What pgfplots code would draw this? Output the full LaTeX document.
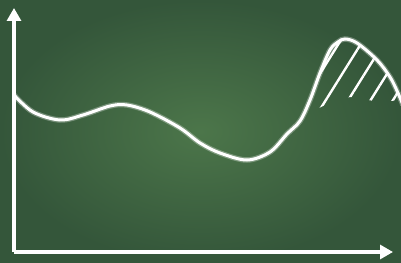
\documentclass[border=0pt]{standalone}
\usepackage{pgfplots}
\pgfplotsset{compat=1.18}
\usetikzlibrary{arrows.meta,patterns.meta}
\definecolor{boardin}{RGB}{76,118,74}
\definecolor{boardout}{RGB}{52,86,58}
\begin{document}
\begin{tikzpicture}
\clip (-14bp,-11bp) rectangle (387bp,252bp);
\shade[inner color=boardin, outer color=boardout] (-14bp,-11bp) rectangle (387bp,252bp);
\begin{axis}[
  scale only axis, width=379bp, height=244bp,
  xmin=14, xmax=393, ymin=11, ymax=255,
  axis lines=left, ticks=none, clip=false,
  axis line style={white, line width=3bp, -{Triangle[width=14bp,length=13bp]}},
]
\addplot[draw=none, pattern={Lines[angle=58,distance=19bp,line width=2.4bp]}, pattern color=white, forget plot] coordinates {
(303,147) (310,163) (320,190) (330,213) (338,221) (345,224) (357,220) (377,203) (390,186) (398,170) (401,163)
(380,161) (350,166) (323,157) (303,147)};
\addplot[white, opacity=0.3, line width=5.5bp, smooth, tension=0.55, forget plot] coordinates {
(14,168) (33,151) (60,143) (83,148) (110,157) (127,158) (150,151) (180,135) (200,120) (220,110) (247,103) (270,111) (287,129) (300,142) (310,163) (320,190) (330,213) (338,221) (345,224) (357,220) (377,203) (390,186) (398,170) (403,158)};
\addplot[white, line width=3bp, smooth, tension=0.55] coordinates {
(14,168) (33,151) (60,143) (83,148) (110,157) (127,158) (150,151) (180,135) (200,120) (220,110) (247,103) (270,111) (287,129) (300,142) (310,163) (320,190) (330,213) (338,221) (345,224) (357,220) (377,203) (390,186) (398,170) (403,158)};
\end{axis}
\end{tikzpicture}
\end{document}
